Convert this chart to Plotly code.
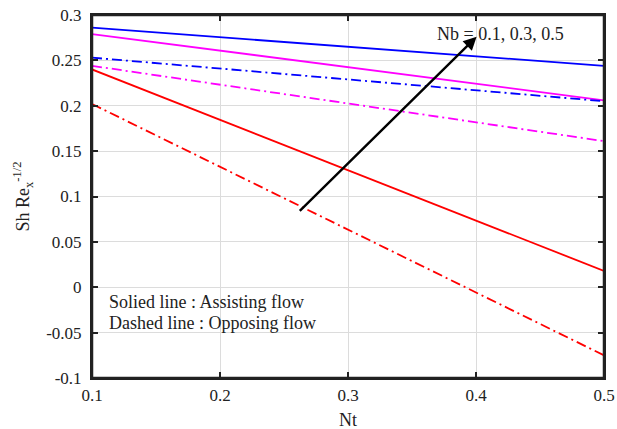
import plotly.graph_objects as go

nt = [0.1, 0.5]
assist_nb01 = [0.240, 0.018]
assist_nb03 = [0.279, 0.206]
assist_nb05 = [0.286, 0.244]
oppose_nb01 = [0.202, -0.075]
oppose_nb03 = [0.244, 0.161]
oppose_nb05 = [0.253, 0.205]

xticks = [0.1, 0.2, 0.3, 0.4, 0.5]
xticklabels = ["0.1", "0.2", "0.3", "0.4", "0.5"]
yticks = [0.3, 0.25, 0.2, 0.15, 0.1, 0.05, 0, -0.05, -0.1]
yticklabels = ["0.3", "0.25", "0.2", "0.15", "0.1", "0.05", "0", "-0.05", "-0.1"]

FONT = "Liberation Serif, Times New Roman, serif"
DASHDOT = "10px,4px,2px,4px"

fig = go.Figure()
series = [
    (assist_nb05, "#0000FF", "solid"),
    (assist_nb03, "#FF00FF", "solid"),
    (oppose_nb05, "#0000FF", DASHDOT),
    (oppose_nb03, "#FF00FF", DASHDOT),
    (assist_nb01, "#FF0000", "solid"),
    (oppose_nb01, "#FF0000", DASHDOT),
]
for ys, c, d in series:
    fig.add_trace(go.Scatter(x=nt, y=ys, mode="lines",
                             line=dict(color=c, width=1.8, dash=d),
                             showlegend=False))

fig.add_annotation(x=0.4005, y=0.276, ax=0.26, ay=0.081,
                   xref="x", yref="y", axref="x", ayref="y",
                   showarrow=True, arrowhead=2, arrowsize=1.1, arrowwidth=2.4,
                   arrowcolor="black", text=" ")
fig.add_annotation(x=0.4188, y=0.279, xref="x", yref="y", xanchor="center",
                   yanchor="middle", showarrow=False, text="Nb = 0.1, 0.3, 0.5",
                   font=dict(family=FONT, size=18, color="#222"))
fig.add_annotation(x=0.1117, y=-0.016, xref="x", yref="y", xanchor="left",
                   yanchor="middle", showarrow=False, text="Solied line : Assisting flow",
                   font=dict(family=FONT, size=18, color="#222"))
fig.add_annotation(x=0.1117, y=-0.0398, xref="x", yref="y", xanchor="left",
                   yanchor="middle", showarrow=False, text="Dashed line : Opposing flow",
                   font=dict(family=FONT, size=18, color="#222"))
fig.add_annotation(x=0.5, y=-0.116, xref="paper", yref="paper", xanchor="center",
                   yanchor="middle", showarrow=False, text="Nt",
                   font=dict(family=FONT, size=18, color="#222"))

fig.add_shape(type="rect", xref="paper", yref="paper", x0=0, y0=0, x1=1, y1=1,
              line=dict(color="#222", width=2.5), layer="above")

axis_common = dict(showgrid=True, gridcolor="#DCDCDC", gridwidth=1.2,
                   showline=True, linecolor="#222", linewidth=2, mirror="ticks",
                   ticks="inside", ticklen=6, tickcolor="#222", tickwidth=2,
                   zeroline=False, automargin=False,
                   tickfont=dict(family=FONT, size=17, color="#222"))

fig.update_xaxes(range=[0.1, 0.5], tickvals=xticks, ticktext=xticklabels,
                 ticklabelstandoff=1, **axis_common)
fig.update_yaxes(range=[-0.1, 0.3], tickvals=yticks, ticktext=yticklabels,
                 ticklabelstandoff=5,
                 title=dict(text="Sh Re<sub>x</sub><sup>-1/2</sup>",
                            font=dict(family=FONT, size=18, color="#222"), standoff=12),
                 **axis_common)

fig.update_layout(width=617, height=429, plot_bgcolor="white", paper_bgcolor="white",
                  margin=dict(l=92, r=13, t=15, b=51))

fig.write_html("out.html")
